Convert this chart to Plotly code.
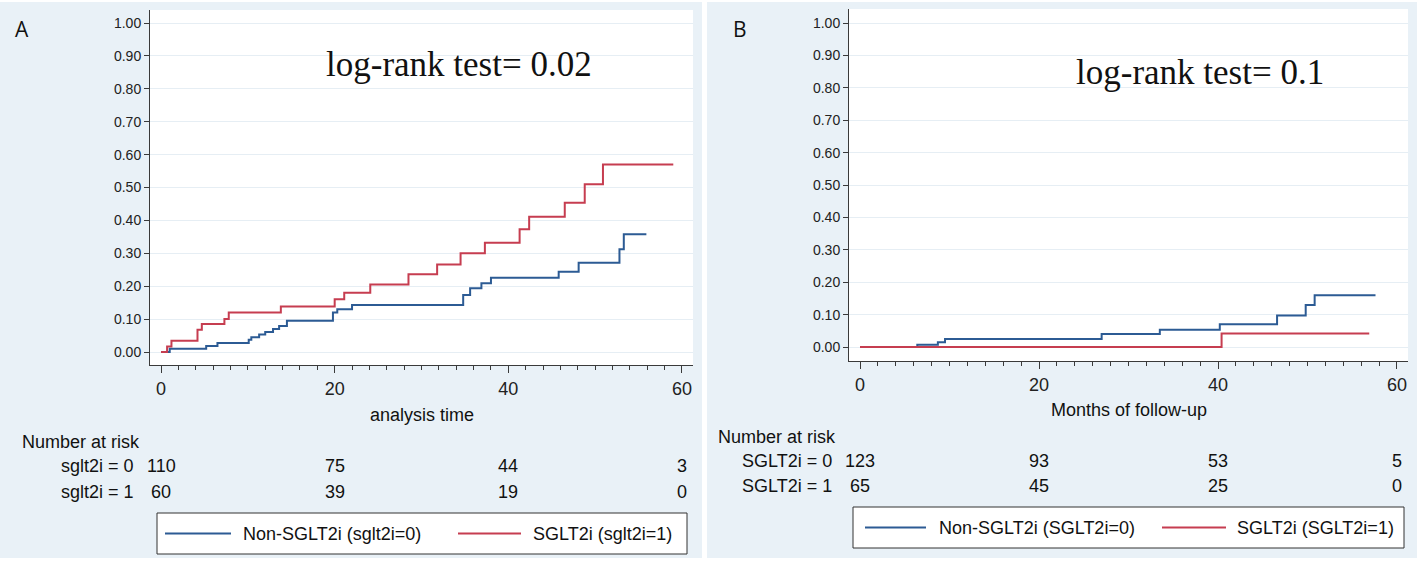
import plotly.graph_objects as go

W, H = 1417, 565

# ---- data ----
# panel A: cumulative incidence, step times (months) and values after each step
a_non_t = [0, 1.0, 5.2, 6.5, 10.1, 10.4, 11.3, 12.0, 12.9, 13.6, 14.5, 19.8, 20.3, 22.0,
           34.8, 35.6, 36.9, 38.0, 45.8, 48.1, 52.8, 53.3, 55.9]
a_non_y = [0, 0.010, 0.018, 0.027, 0.037, 0.045, 0.053, 0.061, 0.070, 0.079, 0.095, 0.120, 0.130, 0.143,
           0.173, 0.194, 0.209, 0.226, 0.244, 0.271, 0.312, 0.358, 0.358]
a_sglt_t = [0, 0.7, 1.2, 4.2, 4.7, 7.3, 7.8, 13.8, 20.0, 21.1, 24.1, 28.5, 31.8, 34.5,
            37.3, 41.3, 42.4, 46.5, 48.8, 50.9, 59.0]
a_sglt_y = [0, 0.017, 0.034, 0.068, 0.085, 0.100, 0.120, 0.138, 0.160, 0.180, 0.205, 0.236, 0.266, 0.300,
            0.332, 0.373, 0.411, 0.454, 0.510, 0.570, 0.570]

# panel B
b_non_t = [0, 6.4, 8.7, 9.5, 27.0, 33.5, 40.2, 46.6, 49.8, 50.8, 57.6]
b_non_y = [0, 0.007, 0.015, 0.025, 0.040, 0.053, 0.070, 0.097, 0.130, 0.160, 0.160]
b_sglt_t = [0, 40.4, 56.9]
b_sglt_y = [0, 0.042, 0.042]

risk_times = [0, 20, 40, 60]
a_risk_non = [110, 75, 44, 3]
a_risk_sglt = [60, 39, 19, 0]
b_risk_non = [123, 93, 53, 5]
b_risk_sglt = [65, 45, 25, 0]

a_names = ["Non-SGLT2i (sglt2i=0)", "SGLT2i (sglt2i=1)"]
b_names = ["Non-SGLT2i (SGLT2i=0)", "SGLT2i (SGLT2i=1)"]
a_rows = ["sglt2i = 0", "sglt2i = 1"]
b_rows = ["SGLT2i = 0", "SGLT2i = 1"]

BLUE = "#2c5b94"
RED = "#c63d50"
PANEL = "#e9f1f7"
AXIS = "#3a3a3a"
SANS = "Liberation Sans, Arial, sans-serif"
SERIF = "Liberation Serif, Times New Roman, serif"


def py(px):
    # pixel row -> paper y
    return 1 - px / H


def pxx(px):
    # pixel column -> paper x
    return px / W


fig = go.Figure()

fig.add_trace(go.Scatter(x=a_non_t, y=a_non_y, mode="lines", name=a_names[0],
                         line=dict(color=BLUE, width=2, shape="hv"),
                         xaxis="x", yaxis="y", showlegend=False))
fig.add_trace(go.Scatter(x=a_sglt_t, y=a_sglt_y, mode="lines", name=a_names[1],
                         line=dict(color=RED, width=2, shape="hv"),
                         xaxis="x", yaxis="y", showlegend=False))
fig.add_trace(go.Scatter(x=b_non_t, y=b_non_y, mode="lines", name=b_names[0],
                         line=dict(color=BLUE, width=2, shape="hv"),
                         xaxis="x2", yaxis="y2", showlegend=False))
fig.add_trace(go.Scatter(x=b_sglt_t, y=b_sglt_y, mode="lines", name=b_names[1],
                         line=dict(color=RED, width=2, shape="hv"),
                         xaxis="x2", yaxis="y2", showlegend=False))

xstyle = dict(showline=True, linecolor=AXIS, linewidth=1, ticks="outside", ticklen=7,
              tickcolor=AXIS, tick0=0, dtick=20, showgrid=False, zeroline=False,
              tickfont=dict(family=SANS, size=18, color="#222"),
              minor=dict(dtick=2, ticks="outside", ticklen=4, tickcolor=AXIS, showgrid=False))
ystyle = dict(showline=True, linecolor=AXIS, linewidth=1, ticks="outside", ticklen=5,
              tickcolor=AXIS, tick0=0, dtick=0.1, tickformat=".2f", showgrid=True,
              gridcolor="#e6eef4", gridwidth=1, zeroline=False,
              tickfont=dict(family=SANS, size=14, color="#222"))

fig.update_layout(
    width=W, height=H, autosize=False,
    margin=dict(l=0, r=0, t=0, b=0),
    paper_bgcolor="white", plot_bgcolor="white",
    showlegend=False,
    xaxis=dict(xstyle, domain=[pxx(150), pxx(693)], range=[-1.27, 61.27], anchor="y"),
    yaxis=dict(ystyle, domain=[py(365), py(10)], range=[-0.0395, 1.0395], anchor="x"),
    xaxis2=dict(xstyle, domain=[pxx(849), pxx(1408)], range=[-1.23, 61.23], anchor="y2"),
    yaxis2=dict(ystyle, domain=[py(361), py(9)], range=[-0.0432, 1.0432], anchor="x2"),
)

# panel backgrounds, then white plot areas on top of them
fig.add_shape(type="rect", xref="paper", yref="paper", x0=0, x1=pxx(702), y0=py(558), y1=py(2),
              fillcolor=PANEL, line=dict(width=0), layer="below")
fig.add_shape(type="rect", xref="paper", yref="paper", x0=pxx(707), x1=1, y0=py(558), y1=py(2),
              fillcolor=PANEL, line=dict(width=0), layer="below")
for xr, yr in (("x domain", "y domain"), ("x2 domain", "y2 domain")):
    fig.add_shape(type="rect", xref=xr, yref=yr, x0=0, x1=1, y0=0, y1=1,
                  fillcolor="white", line=dict(width=0), layer="below")


def txt(text, x, y, xref="paper", size=18, family=SANS, xanchor="center", yanchor="middle"):
    fig.add_annotation(text=text, x=x, y=y, xref=xref, yref="paper", showarrow=False,
                       xanchor=xanchor, yanchor=yanchor,
                       font=dict(family=family, size=size, color="#111"))


# panel letters and log-rank text
txt("A", pxx(22), py(29), size=21, family="Open Sans, sans-serif")
txt("B", pxx(740), py(29), size=21, family="Open Sans, sans-serif")
txt("log-rank test= 0.02", pxx(459), py(65), size=35, family=SERIF)
txt("log-rank test= 0.1", pxx(1200), py(72), size=35, family=SERIF)

# axis titles
txt("analysis time", 30, py(415), xref="x")
txt("Months of follow-up", 30, py(410), xref="x2")

# number at risk tables
txt("Number at risk", pxx(20), py(442), xanchor="left")
txt(a_rows[0], pxx(136), py(466), xanchor="right")
txt(a_rows[1], pxx(136), py(492), xanchor="right")
for t, n0, n1 in zip(risk_times, a_risk_non, a_risk_sglt):
    txt(str(n0), t, py(466), xref="x")
    txt(str(n1), t, py(492), xref="x")

txt("Number at risk", pxx(716), py(437), xanchor="left")
txt(b_rows[0], pxx(834), py(461), xanchor="right")
txt(b_rows[1], pxx(834), py(486), xanchor="right")
for t, n0, n1 in zip(risk_times, b_risk_non, b_risk_sglt):
    txt(str(n0), t, py(461), xref="x2")
    txt(str(n1), t, py(486), xref="x2")


# legend boxes below each risk table (Stata style: long key lines)
def key_box(left, right, top, bottom, items):
    fig.add_shape(type="rect", xref="paper", yref="paper",
                  x0=pxx(left), x1=pxx(right), y0=py(bottom), y1=py(top),
                  fillcolor="white", line=dict(color="#333", width=1))
    mid = (top + bottom) / 2
    for name, color, l0, l1, tx in items:
        fig.add_shape(type="line", xref="paper", yref="paper",
                      x0=pxx(l0), x1=pxx(l1), y0=py(mid), y1=py(mid),
                      line=dict(color=color, width=2))
        txt(name, pxx(tx), py(mid), xanchor="left")


key_box(157, 687, 513, 554, [(a_names[0], BLUE, 165, 231, 241),
                             (a_names[1], RED, 458, 521, 531)])
key_box(853, 1404, 507, 548, [(b_names[0], BLUE, 865, 926, 937),
                              (b_names[1], RED, 1162, 1226, 1235)])

fig.write_html("out.html", config={"displayModeBar": False},
               post_script="document.body.style.margin='0px';document.body.style.overflow='hidden';")
